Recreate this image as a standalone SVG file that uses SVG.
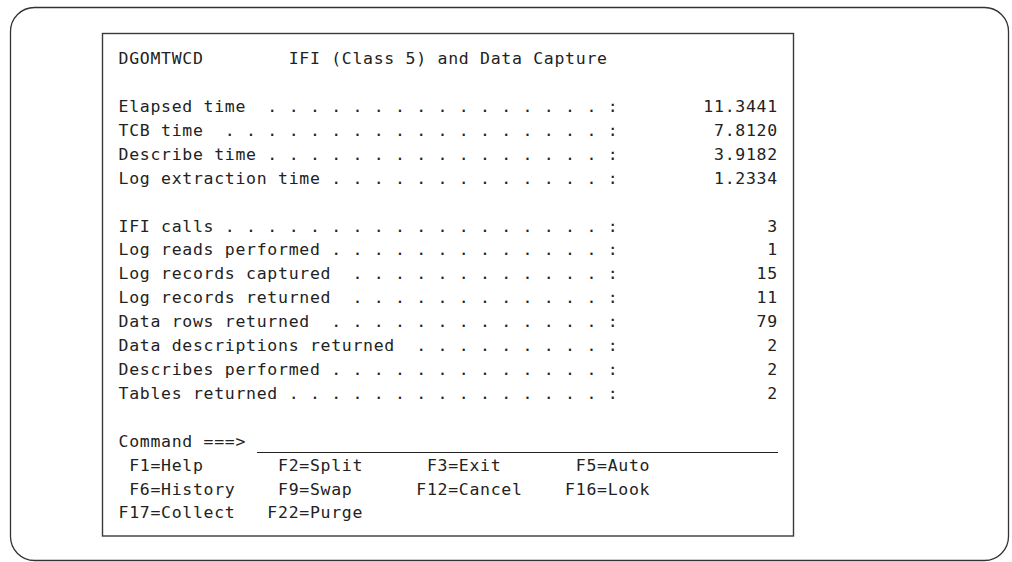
<svg xmlns="http://www.w3.org/2000/svg" width="1012" height="562" viewBox="0 0 1012 562">
  <style>
    .frame { fill: #ffffff; stroke: #333333; stroke-width: 1.3; }
    .panel { fill: #ffffff; stroke: #3a3a3a; stroke-width: 1.4; }
    .t { font-family: "DejaVu Sans Mono", "Liberation Mono", monospace; font-size: 16.5px; letter-spacing: 0.7px; fill: #222222; white-space: pre; }
    .rule { stroke: #222222; stroke-width: 1.2; }
  </style>
  <rect width="1012" height="562" fill="#ffffff"/>
  <!-- outer rounded frame -->
  <rect class="frame" x="10.5" y="7.5" width="998" height="553" rx="24" ry="24"/>
  <!-- terminal panel -->
  <g id="panel">
    <rect class="panel" x="102.5" y="33.5" width="691" height="502.5"/>
    <g id="title">
      <text class="t" x="118.5" y="64" xml:space="preserve">DGOMTWCD        IFI (Class 5) and Data Capture</text>
    </g>
    <g id="timings">
      <text class="t" x="118.5" y="111.9" xml:space="preserve">Elapsed time  . . . . . . . . . . . . . . . . :        11.3441</text>
      <text class="t" x="118.5" y="135.8" xml:space="preserve">TCB time  . . . . . . . . . . . . . . . . . . :         7.8120</text>
      <text class="t" x="118.5" y="159.7" xml:space="preserve">Describe time . . . . . . . . . . . . . . . . :         3.9182</text>
      <text class="t" x="118.5" y="183.6" xml:space="preserve">Log extraction time . . . . . . . . . . . . . :         1.2334</text>
    </g>
    <g id="counters">
      <text class="t" x="118.5" y="231.5" xml:space="preserve">IFI calls . . . . . . . . . . . . . . . . . . :              3</text>
      <text class="t" x="118.5" y="255.4" xml:space="preserve">Log reads performed . . . . . . . . . . . . . :              1</text>
      <text class="t" x="118.5" y="279.3" xml:space="preserve">Log records captured  . . . . . . . . . . . . :             15</text>
      <text class="t" x="118.5" y="303.2" xml:space="preserve">Log records returned  . . . . . . . . . . . . :             11</text>
      <text class="t" x="118.5" y="327.1" xml:space="preserve">Data rows returned  . . . . . . . . . . . . . :             79</text>
      <text class="t" x="118.5" y="351" xml:space="preserve">Data descriptions returned  . . . . . . . . . :              2</text>
      <text class="t" x="118.5" y="374.9" xml:space="preserve">Describes performed . . . . . . . . . . . . . :              2</text>
      <text class="t" x="118.5" y="398.8" xml:space="preserve">Tables returned . . . . . . . . . . . . . . . :              2</text>
    </g>
    <g id="command">
      <text class="t" x="118.5" y="446.7" xml:space="preserve">Command ===></text>
      <line class="rule" x1="257" y1="452.5" x2="778" y2="452.5"/>
    </g>
    <g id="keys">
      <text class="t" x="118.5" y="470.6" xml:space="preserve"> F1=Help       F2=Split      F3=Exit       F5=Auto</text>
      <text class="t" x="118.5" y="494.5" xml:space="preserve"> F6=History    F9=Swap      F12=Cancel    F16=Look</text>
      <text class="t" x="118.5" y="518.4" xml:space="preserve">F17=Collect   F22=Purge</text>
    </g>
  </g>
</svg>
